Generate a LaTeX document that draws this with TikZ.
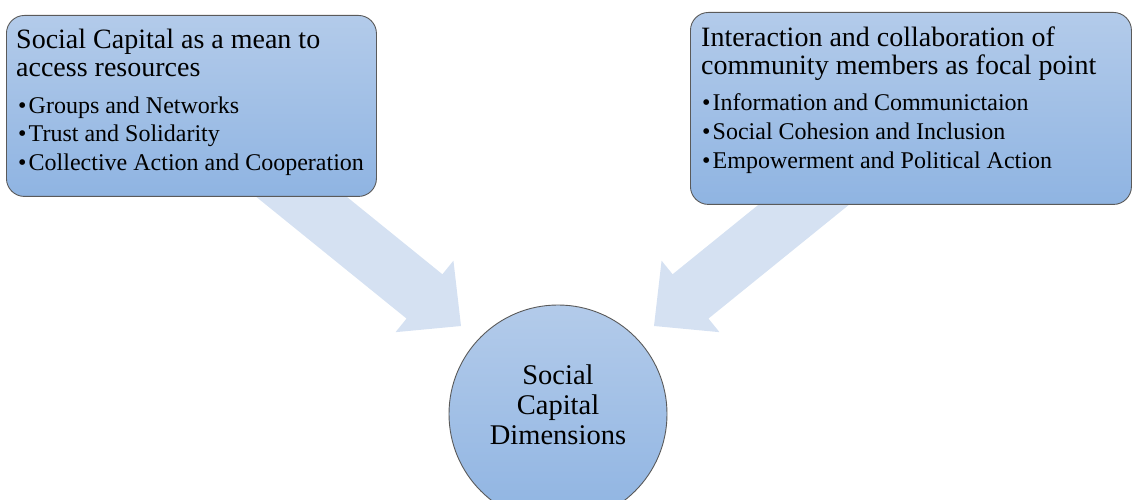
\documentclass[tikz,border=0pt]{standalone}
\usepackage{fontspec}
\setmainfont{Liberation Serif}
\definecolor{gtop}{HTML}{B3CBEA}
\definecolor{gbot}{HTML}{8FB4E2}
\definecolor{arrowfill}{HTML}{D5E1F2}
\definecolor{edge}{HTML}{5A5A5A}
\tikzset{
  box/.style={draw=edge, line width=0.9pt, rounded corners=18pt, top color=gtop, bottom color=gbot, inner sep=0pt, anchor=north west},
  titletext/.style={anchor=base west, inner sep=0pt, font=\fontsize{28}{29}\selectfont},
  itemtext/.style={anchor=base west, inner sep=0pt, font=\fontsize{24}{29}\selectfont},
  circtext/.style={anchor=base, inner sep=0pt, font=\fontsize{28.5}{30}\selectfont},
  blockarrow/.style={fill=arrowfill},
}
\newcommand{\bul}{\makebox[10.5pt][l]{\textbullet}}
\begin{document}
\begin{tikzpicture}[x=1pt,y=1pt]
\useasboundingbox (0,0) rectangle (1132,500);
\clip (0,0) rectangle (1132,500);
% block arrows
\fill[blockarrow, shift={(461,174)}, rotate=-39] (0,0) -- (-47,46) -- (-47,28.5) -- (-260,28.5) -- (-260,-28.5) -- (-47,-28.5) -- (-47,-46) -- cycle;
\fill[blockarrow, shift={(654,174)}, rotate=219] (0,0) -- (-47,-46) -- (-47,-28.5) -- (-260,-28.5) -- (-260,28.5) -- (-47,28.5) -- (-47,46) -- cycle;
% boxes
\node[box, minimum width=370pt, minimum height=181pt] (lbox) at (6,485) {};
\node[box, minimum width=441pt, minimum height=192pt] (rbox) at (690,488) {};
% left text
\node[titletext] (lt1) at (16,451) {Social Capital as a mean to};
\node[titletext] (lt2) at (16,423) {access resources};
\node[itemtext] (li1) at (18,386) {\bul Groups and Networks};
\node[itemtext] (li2) at (18,358) {\bul Trust and Solidarity};
\node[itemtext] (li3) at (18,329) {\bul Collective Action and Cooperation};
% right text
\node[titletext] (rt1) at (701,453) {Interaction and collaboration of};
\node[titletext] (rt2) at (701,425) {community members as focal point};
\node[itemtext] (ri1) at (702,389) {\bul Information and Communictaion};
\node[itemtext] (ri2) at (702,360) {\bul Social Cohesion and Inclusion};
\node[itemtext] (ri3) at (702,331) {\bul Empowerment and Political Action};
% circle
\node[circle, draw=edge, line width=0.9pt, top color=gtop, bottom color=gbot, minimum size=218pt, inner sep=0pt] (circ) at (558,86) {};
\node[circtext] (c1) at (558,115) {Social};
\node[circtext] (c2) at (558,85) {Capital};
\node[circtext] (c3) at (558,55) {Dimensions};
\end{tikzpicture}
\end{document}
